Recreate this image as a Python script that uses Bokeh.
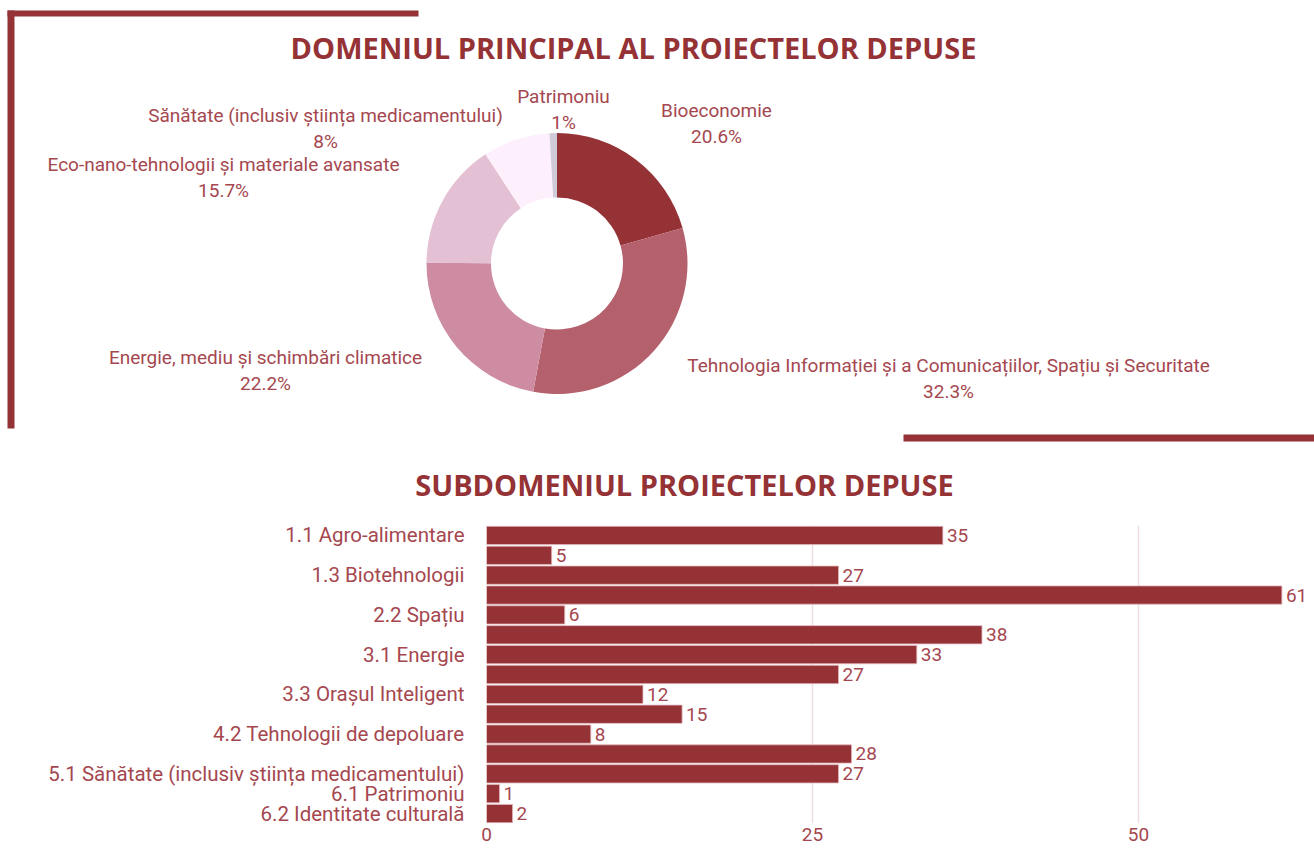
import math
from bokeh.plotting import figure
from bokeh.models import Range1d, FixedTicker, ColumnDataSource
from bokeh.core.properties import value
from bokeh.embed import file_html
from bokeh.resources import INLINE

# ---------------- data ----------------
domain_names = [
    "Bioeconomie",
    "Tehnologia Informației și a Comunicațiilor, Spațiu și Securitate",
    "Energie, mediu și schimbări climatice",
    "Eco-nano-tehnologii și materiale avansate",
    "Sănătate (inclusiv știința medicamentului)",
    "Patrimoniu",
]
domain_values = [67, 105, 72, 51, 27, 3]
domain_pct_labels = ["20.6%", "32.3%", "22.2%", "15.7%", "8%", "1%"]
domain_colors = ["#943236", "#B5616D", "#CE8CA3", "#E4C0D5", "#FDF0FC", "#CFCBD8"]

sub_codes = ["1.1", "1.2", "1.3", "2.1", "2.2", "2.3", "3.1", "3.2", "3.3",
             "4.1", "4.2", "4.3", "5.1", "6.1", "6.2"]
sub_labels = ["1.1 Agro-alimentare", "", "1.3 Biotehnologii", "", "2.2 Spațiu", "",
              "3.1 Energie", "", "3.3 Orașul Inteligent", "", "4.2 Tehnologii de depoluare", "",
              "5.1 Sănătate (inclusiv știința medicamentului)", "6.1 Patrimoniu",
              "6.2 Identitate culturală"]
sub_values = [35, 5, 27, 61, 6, 38, 33, 27, 12, 15, 8, 28, 27, 1, 2]
x_ticks = [0, 25, 50]

# ---------------- style ----------------
RED = "#943236"
TXT = "#A5474F"
FONT = "Roboto"
TFONT = "Open Sans"
W = 1314
H_TOP = 510

def px(x):  # page x -> data x
    return x

def py(y):  # page y -> data y
    return H_TOP - y

top = figure(width=W, height=H_TOP, frame_width=W, frame_height=H_TOP,
             x_range=Range1d(0, W), y_range=Range1d(0, H_TOP),
             output_backend="svg", toolbar_location=None,
             x_axis_location=None, y_axis_location=None,
             min_border=0, outline_line_color=None, background_fill_color="white",
             border_fill_color="white")
top.grid.visible = False

# decorative bars
top.quad(left=[px(7), px(7), px(903)], right=[px(418), px(14), px(1314)],
         top=[py(10), py(10), py(434)], bottom=[py(16), py(428), py(441)],
         fill_color=RED, line_color=None)

# titles
top.text(x=[px(633)], y=[py(47)], text=["DOMENIUL PRINCIPAL AL PROIECTELOR DEPUSE"],
         text_font=value(TFONT), text_font_style="bold", text_font_size="29px",
         text_color=RED, text_align="center", text_baseline="middle")
top.text(x=[px(684)], y=[py(484)], text=["SUBDOMENIUL PROIECTELOR DEPUSE"],
         text_font=value(TFONT), text_font_style="bold", text_font_size="29px",
         text_color=RED, text_align="center", text_baseline="middle")

# donut
total = sum(domain_values)
cum = [0]
for v in domain_values:
    cum.append(cum[-1] + v)
starts = [math.pi / 2 - 2 * math.pi * cum[i + 1] / total for i in range(len(domain_values))]
ends = [math.pi / 2 - 2 * math.pi * cum[i] / total for i in range(len(domain_values))]
src = ColumnDataSource(dict(start=starts, end=ends, color=domain_colors, name=domain_names))
top.annular_wedge(x=px(556.5), y=py(263), inner_radius=66, outer_radius=130.5,
                  start_angle="start", end_angle="end", fill_color="color",
                  line_color=None, source=src)

# donut labels (page positions of label centres)
label_pos = [(716, 110), (948, 365), (265, 357), (223, 164), (325, 115), (563, 96)]
lx = [px(p[0]) for p in label_pos]
ly1 = [py(p[1]) for p in label_pos]
ly2 = [py(p[1] + 26) for p in label_pos]
top.text(x=lx, y=ly1, text=domain_names, text_font=value(FONT), text_font_size="19px",
         text_color=TXT, text_align="center", text_baseline="middle")
top.text(x=lx, y=ly2, text=domain_pct_labels, text_font=value(FONT), text_font_size="19px",
         text_color=TXT, text_align="center", text_baseline="middle")

# ---------------- bar chart ----------------
pos = list(range(1, len(sub_values) + 1))
bot = figure(frame_width=W - 486, frame_height=298,
             x_range=Range1d(0, 63.5), y_range=Range1d(15.5, 0.5),
             output_backend="svg", toolbar_location=None,
             min_border_left=486, min_border_right=0, min_border_top=525 - H_TOP,
             min_border_bottom=30, outline_line_color=None,
             background_fill_color="white", border_fill_color="white")
bot.hbar(y=pos, right=sub_values, left=0, height=0.92, fill_color=RED,
         line_color="#E2B9BE", line_width=0.8)
bot.text(x=sub_values, y=pos, text=[str(v) for v in sub_values], x_offset=4,
         text_font=value(FONT), text_font_size="19px", text_color=TXT,
         text_align="left", text_baseline="middle")

bot.ygrid.visible = False
bot.xgrid.ticker = FixedTicker(ticks=x_ticks)
bot.xgrid.grid_line_color = "#EFDDE3"
bot.xgrid.grid_line_width = 1.5
bot.xaxis.ticker = FixedTicker(ticks=x_ticks)
bot.xaxis.axis_line_color = None
bot.xaxis.major_tick_line_color = None
bot.xaxis.minor_tick_line_color = None
bot.xaxis.major_tick_out = 0
bot.xaxis.major_label_standoff = 4
bot.xaxis.major_label_text_font = FONT
bot.xaxis.major_label_text_font_size = "19px"
bot.xaxis.major_label_text_color = TXT

shown = [p for p, l in zip(pos, sub_labels) if l]
bot.yaxis.ticker = FixedTicker(ticks=shown)
bot.yaxis.major_label_overrides = {p: l for p, l in zip(pos, sub_labels) if l}
bot.yaxis.axis_line_color = None
bot.yaxis.major_tick_line_color = None
bot.yaxis.minor_tick_line_color = None
bot.yaxis.major_label_standoff = 16
bot.yaxis.major_label_text_font = FONT
bot.yaxis.major_label_text_font_size = "20.5px"
bot.yaxis.major_label_text_color = TXT

open("out.html", "w").write(file_html([top, bot], INLINE))
